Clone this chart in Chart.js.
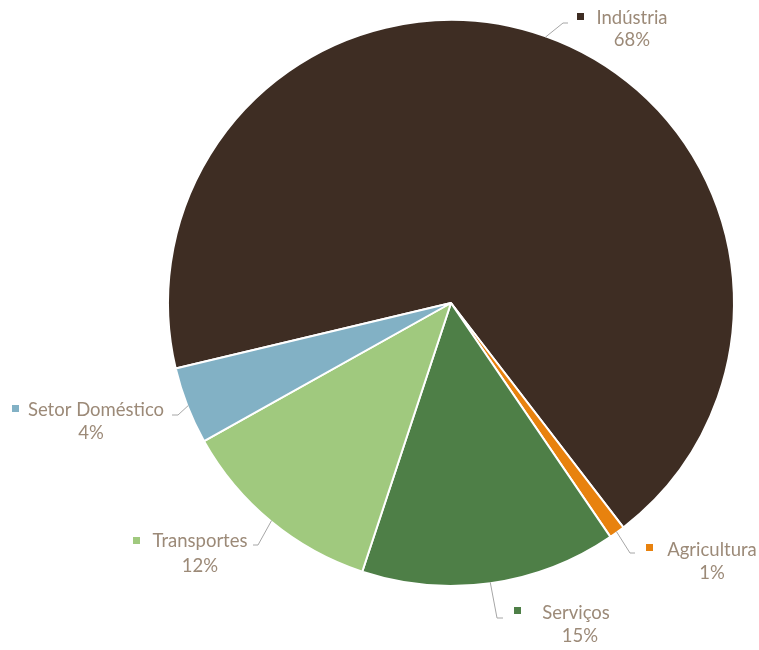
<!DOCTYPE html>
<html>
<head>
<meta charset="utf-8">
<title>Consumo por setor</title>
<script src="https://cdn.jsdelivr.net/npm/chart.js@4"></script>
<style>
    html, body { margin: 0; padding: 0; background: #fff; }
    #wrap { width: 759px; height: 650px; }
</style>
</head>
<body>
<div id="wrap"><canvas id="pieChart" width="759" height="650"></canvas></div>
<script>
// Data (percent shares)
const categories = ['Indústria', 'Agricultura', 'Serviços', 'Transportes', 'Setor Doméstico'];
const shares = [68.3, 0.9, 14.6, 11.8, 4.4];
const sliceColors = ['#3e2d23', '#e8820e', '#4e7f47', '#a0c97e', '#82b1c5'];

// Where each outside label sits (name centre, % centre, marker, leader elbow/end)
const labelLayout = [
    { nameX: 632, nameY: 18, pctX: 632, pctY: 40, markX: 577, markY: 13, elbow: [563, 23], end: [568, 23] },
    { nameX: 712, nameY: 550, pctX: 712, pctY: 573, markX: 646, markY: 544, elbow: [630, 553], end: [635, 553] },
    { nameX: 576, nameY: 613, pctX: 580, pctY: 636, markX: 514, markY: 607, elbow: [497, 618], end: [503, 618] },
    { nameX: 200, nameY: 541, pctX: 200, pctY: 566, markX: 133, markY: 537, elbow: [258, 545], end: [253, 545] },
    { nameX: 96, nameY: 410, pctX: 91, pctY: 433, markX: 12, markY: 405, elbow: [178, 415], end: [172, 415] }
];

const textColor = '#9c8a78';
const fontFamily = 'Lato, "Open Sans", sans-serif';

const outsideLabels = {
    id: 'outsideLabels',
    afterDatasetsDraw(chart) {
        const ctx = chart.ctx;
        const arcs = chart.getDatasetMeta(0).data;
        const total = shares.reduce((a, b) => a + b, 0);

        ctx.save();
        arcs.forEach((arc, i) => {
            const lay = labelLayout[i];
            const mid = (arc.startAngle + arc.endAngle) / 2;
            const r = arc.outerRadius - 1;
            const px = arc.x + Math.cos(mid) * r;
            const py = arc.y + Math.sin(mid) * r;

            // leader line
            ctx.strokeStyle = '#a6a6a6';
            ctx.lineWidth = 1;
            ctx.beginPath();
            ctx.moveTo(px, py);
            ctx.lineTo(lay.elbow[0], lay.elbow[1]);
            ctx.lineTo(lay.end[0], lay.end[1]);
            ctx.stroke();

            // legend key
            ctx.fillStyle = sliceColors[i];
            ctx.fillRect(lay.markX, lay.markY, 7, 7);

            // texts
            ctx.fillStyle = textColor;
            ctx.font = '18.5px ' + fontFamily;
            ctx.textAlign = 'center';
            ctx.textBaseline = 'middle';
            ctx.fillText(categories[i], lay.nameX, lay.nameY);
            ctx.fillText(Math.round(shares[i] / total * 100) + '%', lay.pctX, lay.pctY);
        });
        ctx.restore();
    }
};

const ctx = document.getElementById('pieChart');
new Chart(ctx, {
    type: 'pie',
    data: {
        labels: categories,
        datasets: [{
            data: shares,
            backgroundColor: sliceColors,
            borderColor: '#ffffff',
            borderWidth: 2
        }]
    },
    options: {
        responsive: false,
        animation: false,
        rotation: 256.6,
        layout: {
            padding: { left: 167, right: 24, top: 19, bottom: 63 }
        },
        plugins: {
            legend: { display: false },
            tooltip: { enabled: false }
        }
    },
    plugins: [outsideLabels]
});
</script>
</body>
</html>
